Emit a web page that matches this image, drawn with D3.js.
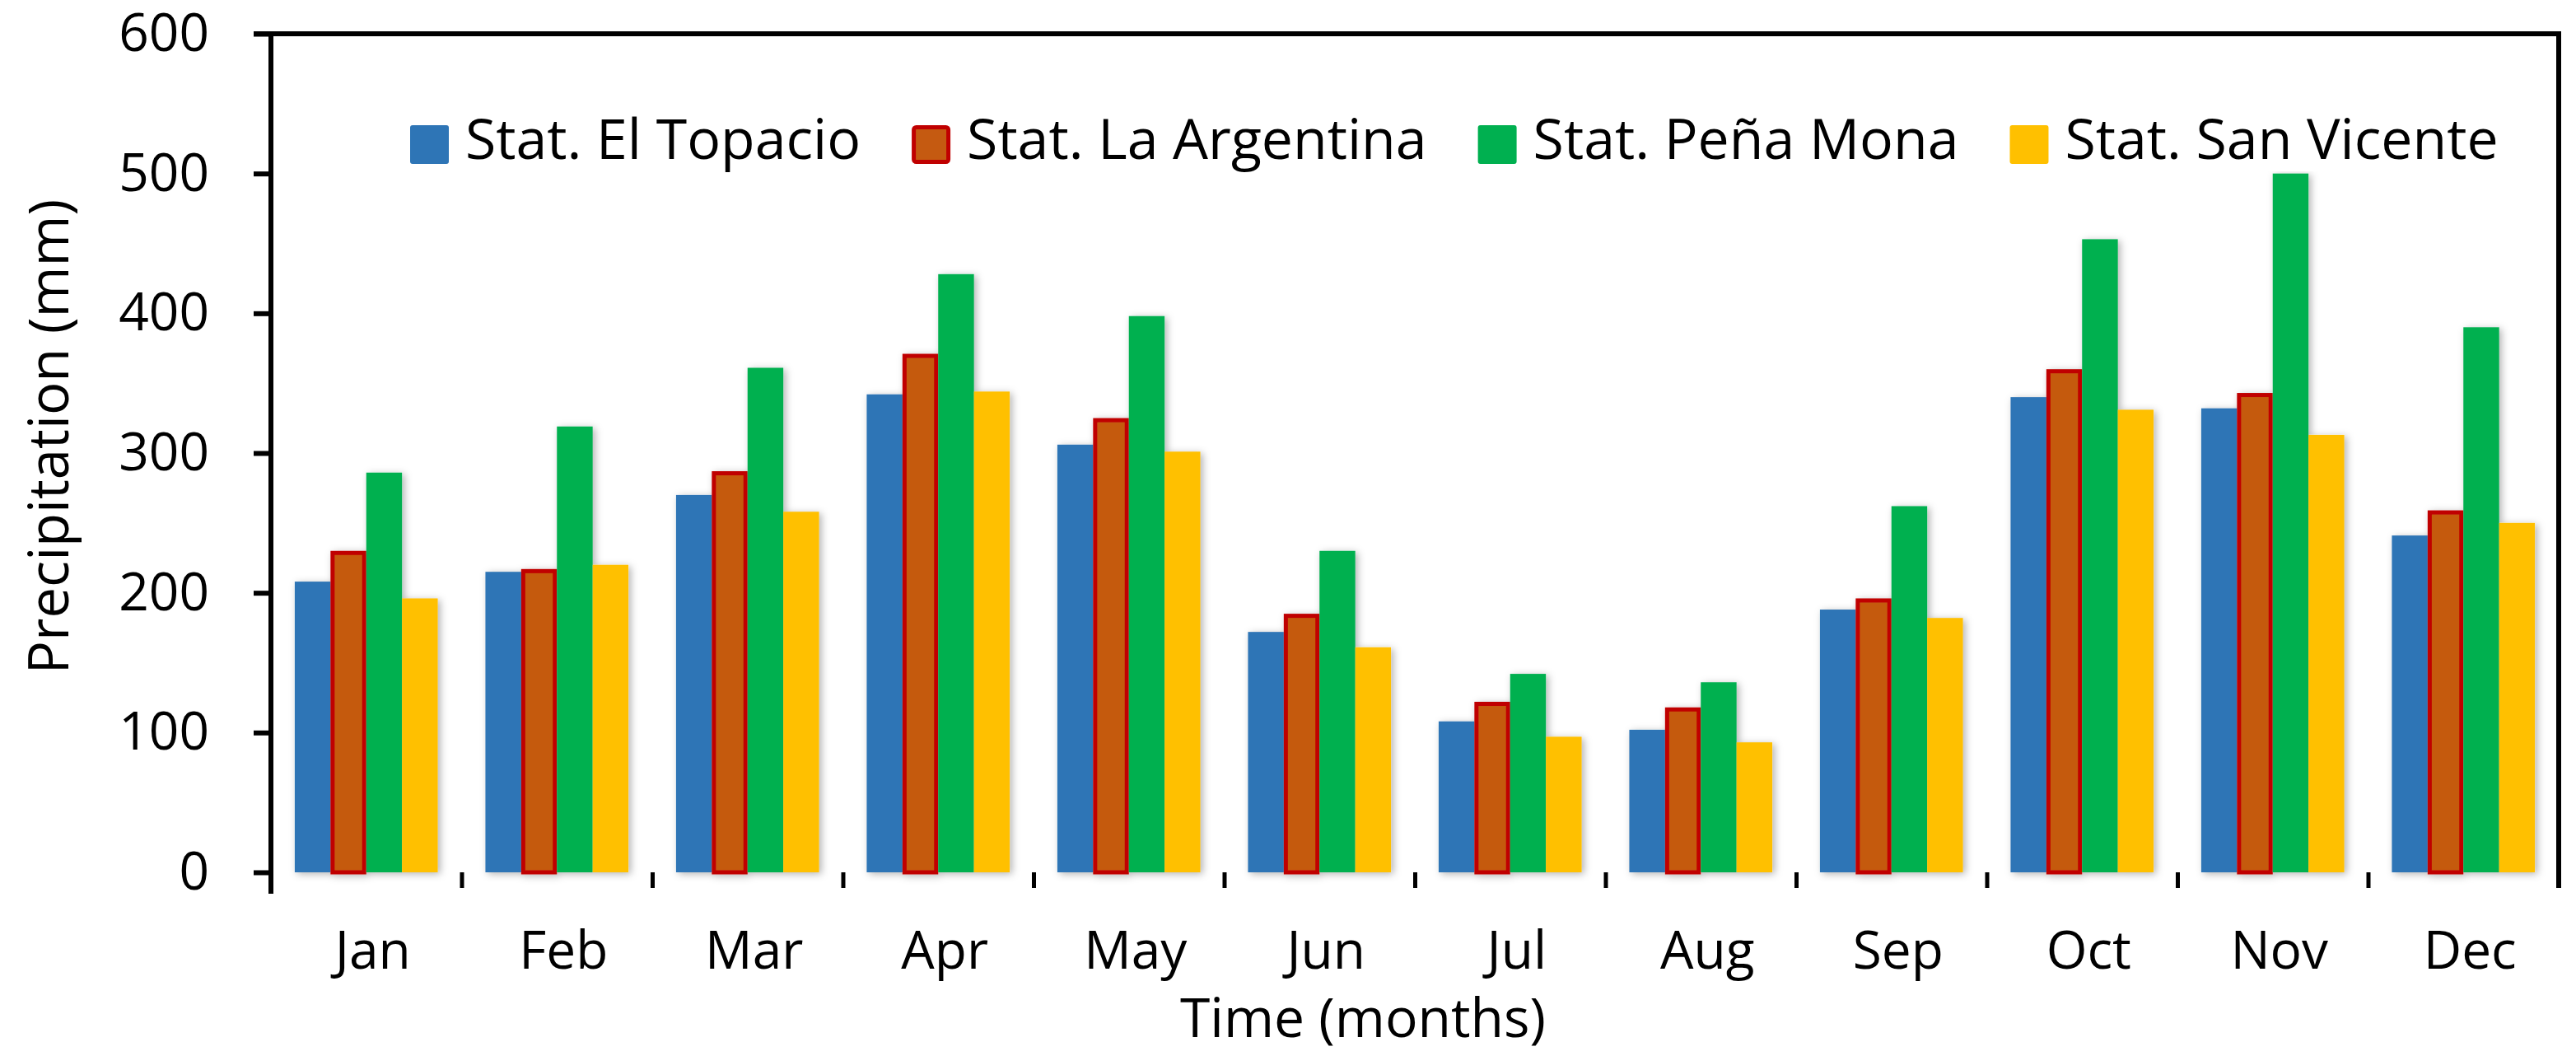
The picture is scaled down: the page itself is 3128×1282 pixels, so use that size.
<!DOCTYPE html>
<html>
<head>
<meta charset="utf-8">
<script src="https://cdn.jsdelivr.net/npm/d3@7"></script>
<style>
  body { margin: 0; background: #fff; }
  text { font-family: "Open Sans", "Noto Sans", sans-serif; fill: #000; }
</style>
</head>
<body>
<svg id="chart" width="3128" height="1282"></svg>
<script>
// valeurs (mm)
const months = ["Jan", "Feb", "Mar", "Apr", "May", "Jun", "Jul", "Aug", "Sep", "Oct", "Nov", "Dec"];
const stations = ["Stat. El Topacio", "Stat. La Argentina", "Stat. Peña Mona", "Stat. San Vicente"];
const elTopacio   = [208, 215, 270, 342, 306, 172, 108, 102, 188, 340, 332, 241];
const laArgentina = [230, 217, 287, 371, 325, 185, 122, 118, 196, 360, 343, 259];
const penaMona    = [286, 319, 361, 428, 398, 230, 142, 136, 262, 453, 500, 390];
const sanVicente  = [196, 220, 258, 344, 301, 161,  97,  93, 182, 331, 313, 250];
const yTicks = [0, 100, 200, 300, 400, 500, 600];

const series = [elTopacio, laArgentina, penaMona, sanVicente];
const fills = ["#2E75B6", "#C55A11", "#00B050", "#FFC000"];
const strokes = [null, "#C00000", null, null];

const svg = d3.select("#chart");
const plotLeft = 329, plotRight = 3107, plotTop = 41, plotBottom = 1059;

// ombre douce comme dans Excel
const defs = svg.append("defs");
defs.append("filter").attr("id", "shadow")
    .attr("x", "-30%").attr("y", "-10%").attr("width", "160%").attr("height", "120%")
  .append("feDropShadow")
    .attr("dx", 3).attr("dy", 2).attr("stdDeviation", 5)
    .attr("flood-color", "#000").attr("flood-opacity", 0.3);
defs.append("filter").attr("id", "lineShadow")
    .attr("x", "-5%").attr("y", "-200%").attr("width", "110%").attr("height", "500%")
  .append("feDropShadow")
    .attr("dx", 0).attr("dy", 3).attr("stdDeviation", 2)
    .attr("flood-color", "#000").attr("flood-opacity", 0.2);

const y = d3.scaleLinear().domain([0, 600]).range([plotBottom, plotTop]);
const x0 = d3.scaleBand().domain(months).range([plotLeft, plotRight]).paddingInner(0.25).paddingOuter(0.125);
const x1 = d3.scaleBand().domain(d3.range(series.length)).range([0, x0.bandwidth()]);
const xEdges = d3.scaleLinear().domain([0, months.length]).range([plotLeft, plotRight]);

// grille horizontale
svg.append("g").selectAll("line")
  .data(yTicks.filter(v => v > 0 && v < 600))
  .enter().append("line")
    .attr("x1", plotLeft).attr("x2", plotRight)
    .attr("y1", d => y(d)).attr("y2", d => y(d))
    .attr("stroke", "#D9D9D9").attr("stroke-width", 5)
    .attr("filter", "url(#lineShadow)");

// barres
const groups = svg.append("g").selectAll("g")
  .data(months)
  .enter().append("g")
    .attr("transform", d => "translate(" + x0(d) + ",0)")
    .attr("filter", "url(#shadow)");

groups.selectAll("rect")
  .data((m, i) => series.map((s, k) => ({k: k, v: s[i]})))
  .enter().append("rect")
    .attr("x", d => x1(d.k) + (strokes[d.k] ? 2.5 : 0))
    .attr("width", d => x1.bandwidth() - (strokes[d.k] ? 5 : 0))
    .attr("y", d => y(d.v) + (strokes[d.k] ? 2.5 : 0))
    .attr("height", d => y(0) - y(d.v) - (strokes[d.k] ? 2.5 : 0))
    .attr("fill", d => fills[d.k])
    .attr("stroke", d => strokes[d.k] || "none")
    .attr("stroke-width", 5);

// légende
const legend = svg.append("g");
let lx = 498;
stations.forEach((name, k) => {
  const item = legend.append("g");
  const txt = item.append("text")
      .attr("x", lx + 67).attr("y", 193)
      .style("font-size", "68px")
      .text(name);
  const w = txt.node().getComputedTextLength();
  item.insert("rect", "text")
      .attr("x", lx + 62).attr("y", 128).attr("width", w + 12).attr("height", 80)
      .attr("fill", "#fff");
  item.append("rect")
      .attr("x", lx + (strokes[k] ? 2.5 : 0)).attr("y", 152 + (strokes[k] ? 2.5 : 0))
      .attr("width", 47 - (strokes[k] ? 5 : 0)).attr("height", 47 - (strokes[k] ? 5 : 0))
      .attr("rx", 3)
      .attr("fill", fills[k])
      .attr("stroke", strokes[k] || "none").attr("stroke-width", 5);
  lx += 67 + w + 62;
});

// axe Y
const yAxis = svg.append("g")
    .attr("transform", "translate(" + plotLeft + ",0)")
    .call(d3.axisLeft(y).tickValues(yTicks).tickSize(21).tickPadding(54));
yAxis.select(".domain").remove();
yAxis.selectAll("line").attr("stroke", "#000").attr("stroke-width", 6);
yAxis.selectAll("text").style("font-size", "64px").attr("font-family", null);

// axe X : graduations aux limites des mois
const xTicks = svg.append("g")
    .attr("transform", "translate(0," + plotBottom + ")")
    .call(d3.axisBottom(xEdges).ticks(months.length).tickSize(19).tickFormat(""));
xTicks.select(".domain").remove();
xTicks.selectAll("line").attr("stroke", "#000").attr("stroke-width", 5);

const xAxis = svg.append("g")
    .attr("transform", "translate(8," + plotBottom + ")")
    .call(d3.axisBottom(x0).tickSize(0));
xAxis.select(".domain").remove();
xAxis.selectAll("text")
    .attr("y", 117).attr("dy", 0)
    .attr("font-family", null)
    .style("font-size", "64px");

// cadre
const frame = svg.append("g").attr("stroke", "#000").attr("fill", "none");
frame.append("line").attr("x1", 308).attr("x2", plotRight + 3).attr("y1", plotTop).attr("y2", plotTop).attr("stroke-width", 6);
frame.append("line").attr("x1", plotRight).attr("x2", plotRight).attr("y1", plotTop).attr("y2", 1078).attr("stroke-width", 6);
frame.append("line").attr("x1", plotLeft).attr("x2", plotLeft).attr("y1", plotTop - 3).attr("y2", 1085).attr("stroke-width", 6);
frame.append("line").attr("x1", 308).attr("x2", plotRight + 3).attr("y1", plotBottom).attr("y2", plotBottom)
    .attr("stroke-width", 7).attr("filter", "url(#lineShadow)");

// titres des axes
svg.append("text")
    .attr("x", 1655).attr("y", 1259)
    .attr("text-anchor", "middle")
    .style("font-size", "66px")
    .text("Time (months)");

svg.append("text")
    .attr("transform", "translate(83,530) rotate(-90)")
    .attr("text-anchor", "middle")
    .style("font-size", "67px")
    .text("Precipitation (mm)");
</script>
</body>
</html>
